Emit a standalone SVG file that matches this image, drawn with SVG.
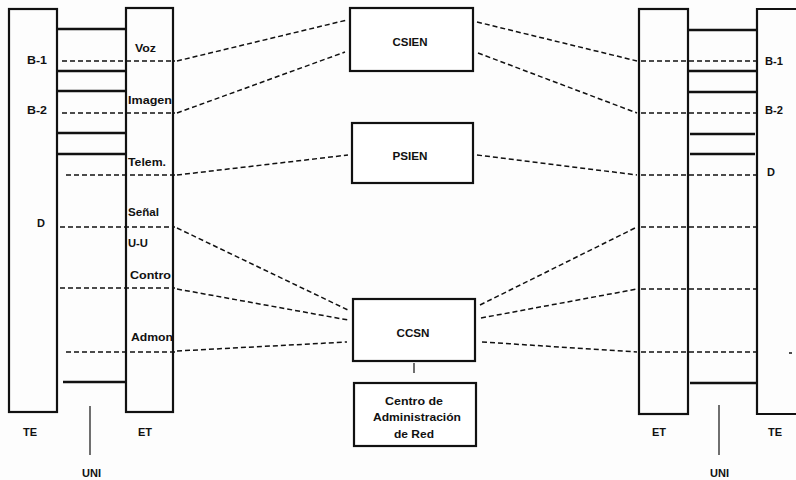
<svg xmlns="http://www.w3.org/2000/svg" width="796" height="480" viewBox="0 0 796 480">
  <style>
    .col { fill: none; stroke: #111; stroke-width: 2.2; }
    .bar { stroke: #111; stroke-width: 2.6; }
    .box { fill: #fff; stroke: #111; stroke-width: 2.2; }
    .dash { fill: none; stroke: #111; stroke-width: 1.5; stroke-dasharray: 5 3; }
    .solid { stroke: #111; stroke-width: 1.2; }
    text { font-family: "Liberation Sans", Arial, sans-serif; font-weight: bold; font-size: 11px; fill: #111; }
    .c { text-anchor: middle; }
  </style>
  <rect width="796" height="480" fill="#fdfdfd"/>

  <!-- Left interface: terminal (TE) and exchange termination (ET) -->
  <g id="left-te">
    <rect class="col" x="9" y="9" width="48" height="403"/>
    <text x="27" y="64" textLength="20" lengthAdjust="spacingAndGlyphs">B-1</text>
    <text x="27" y="114" textLength="20" lengthAdjust="spacingAndGlyphs">B-2</text>
    <text x="37" y="227">D</text>
    <text x="23" y="436">TE</text>
  </g>
  <g id="left-uni">
    <line class="bar" x1="57" y1="29" x2="126" y2="29"/>
    <line class="bar" x1="57" y1="71" x2="126" y2="71"/>
    <line class="bar" x1="57" y1="91" x2="126" y2="91"/>
    <line class="bar" x1="57" y1="133" x2="126" y2="133"/>
    <line class="bar" x1="57" y1="154" x2="126" y2="154"/>
    <line class="bar" x1="63" y1="382" x2="125" y2="382"/>
    <line class="solid" x1="90" y1="406" x2="90" y2="455"/>
    <text x="82" y="477">UNI</text>
  </g>
  <g id="left-et">
    <rect class="col" x="126" y="8" width="47" height="404"/>
    <text x="135" y="52" textLength="21" lengthAdjust="spacingAndGlyphs">Voz</text>
    <text x="128" y="104" textLength="44" lengthAdjust="spacingAndGlyphs">Imagen</text>
    <text x="128" y="166" textLength="38" lengthAdjust="spacingAndGlyphs">Telem.</text>
    <text x="128" y="216" textLength="31" lengthAdjust="spacingAndGlyphs">Señal</text>
    <text x="128" y="247" textLength="20" lengthAdjust="spacingAndGlyphs">U-U</text>
    <text x="130" y="279" textLength="41" lengthAdjust="spacingAndGlyphs">Contro</text>
    <text x="131" y="341" textLength="42" lengthAdjust="spacingAndGlyphs">Admon</text>
    <text x="138" y="436">ET</text>
  </g>

  <!-- Network functions -->
  <g id="csien">
    <rect class="box" x="350" y="8" width="123" height="63"/>
    <text class="c" x="410" y="46" textLength="35" lengthAdjust="spacingAndGlyphs">CSIEN</text>
  </g>
  <g id="psien">
    <rect class="box" x="352" y="123" width="121" height="60"/>
    <text class="c" x="410" y="160" textLength="35" lengthAdjust="spacingAndGlyphs">PSIEN</text>
  </g>
  <g id="ccsn">
    <rect class="box" x="353" y="299" width="122" height="62"/>
    <text class="c" x="413" y="337" textLength="33" lengthAdjust="spacingAndGlyphs">CCSN</text>
  </g>
  <g id="centro">
    <rect class="box" x="354" y="383" width="122" height="63"/>
    <text class="c" x="414" y="405" textLength="58" lengthAdjust="spacingAndGlyphs">Centro de</text>
    <text class="c" x="417" y="421" textLength="88" lengthAdjust="spacingAndGlyphs">Administración</text>
    <text class="c" x="414" y="438" textLength="40" lengthAdjust="spacingAndGlyphs">de Red</text>
  </g>

  <!-- Right interface -->
  <g id="right-et">
    <rect class="col" x="639" y="9" width="49" height="405"/>
    <text x="652" y="436">ET</text>
  </g>
  <g id="right-uni">
    <line class="bar" x1="688" y1="30" x2="757" y2="30"/>
    <line class="bar" x1="688" y1="71" x2="757" y2="71"/>
    <line class="bar" x1="688" y1="92" x2="757" y2="92"/>
    <line class="bar" x1="690" y1="134" x2="755" y2="134"/>
    <line class="bar" x1="690" y1="154" x2="755" y2="154" stroke-width="3.4"/>
    <line class="bar" x1="690" y1="383" x2="757" y2="383"/>
    <line class="solid" x1="719" y1="405" x2="719" y2="455"/>
    <text x="710" y="477">UNI</text>
  </g>
  <g id="right-te">
    <path class="col" d="M800 9 H757 V414 H800"/>
    <text x="765" y="65" textLength="18" lengthAdjust="spacingAndGlyphs">B-1</text>
    <text x="765" y="114" textLength="18" lengthAdjust="spacingAndGlyphs">B-2</text>
    <text x="767" y="176">D</text>
    <text x="768" y="436">TE</text>
  </g>

  <!-- Channel connectors -->
  <g id="connectors">
    <!-- left horizontal runs -->
    <line class="dash" x1="62" y1="61" x2="175" y2="61"/>
    <line class="dash" x1="62" y1="113" x2="175" y2="113"/>
    <line class="dash" x1="66" y1="175" x2="175" y2="175"/>
    <line class="dash" x1="60" y1="227" x2="175" y2="227"/>
    <line class="dash" x1="60" y1="288" x2="175" y2="288"/>
    <line class="dash" x1="66" y1="352" x2="175" y2="352"/>
    <!-- left to network functions -->
    <line class="dash" x1="177" y1="61" x2="347" y2="20"/>
    <line class="dash" x1="177" y1="113" x2="345" y2="52"/>
    <line class="dash" x1="177" y1="175" x2="348" y2="155"/>
    <line class="dash" x1="177" y1="228" x2="348" y2="310"/>
    <line class="dash" x1="177" y1="289" x2="348" y2="320"/>
    <line class="dash" x1="177" y1="351" x2="347" y2="342"/>
    <!-- network functions to right -->
    <line class="dash" x1="477" y1="22" x2="637" y2="61"/>
    <line class="dash" x1="478" y1="53" x2="637" y2="113"/>
    <line class="dash" x1="477" y1="155" x2="637" y2="175"/>
    <line class="dash" x1="480" y1="305" x2="637" y2="227"/>
    <line class="dash" x1="481" y1="318" x2="637" y2="289"/>
    <line class="dash" x1="482" y1="342" x2="637" y2="352"/>
    <!-- right horizontal runs -->
    <line class="dash" x1="641" y1="61" x2="756" y2="61"/>
    <line class="dash" x1="641" y1="113" x2="756" y2="113"/>
    <line class="dash" x1="641" y1="175" x2="756" y2="175"/>
    <line class="dash" x1="641" y1="227" x2="756" y2="227"/>
    <line class="dash" x1="641" y1="289" x2="756" y2="289"/>
    <line class="dash" x1="641" y1="352" x2="756" y2="352"/>
    <line class="dash" x1="789" y1="353" x2="792" y2="353"/>
    <!-- CCSN to management centre -->
    <line class="solid" x1="414" y1="363" x2="414" y2="373"/>
  </g>
</svg>
